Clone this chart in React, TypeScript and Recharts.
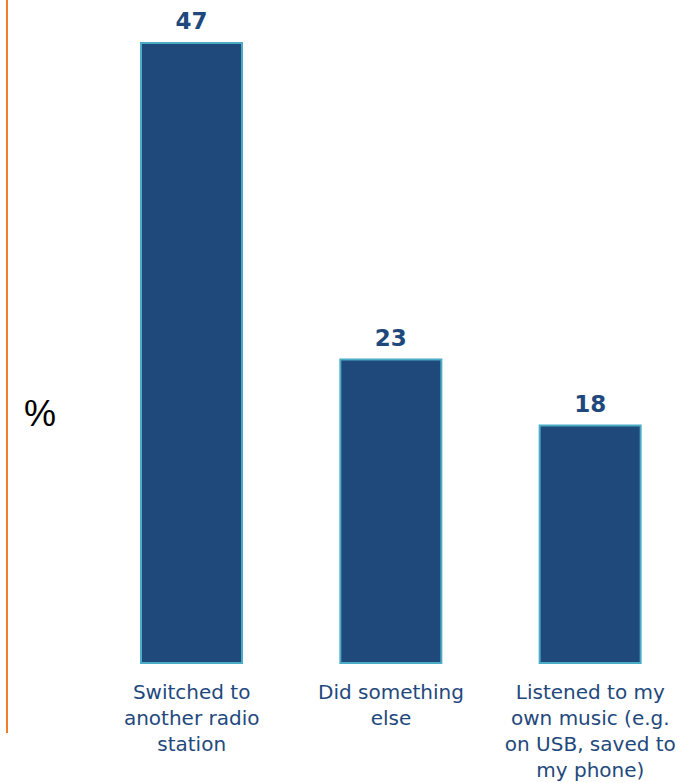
import { Bar, BarChart, LabelList, XAxis, YAxis } from "recharts";

const categories = [
  "Switched to another radio station",
  "Did something else",
  "Listened to my own music (e.g. on USB, saved to my phone)",
];
const categoryLines = [
  ["Switched to", "another radio", "station"],
  ["Did something", "else"],
  ["Listened to my", "own music (e.g.", "on USB, saved to", "my phone)"],
];
const shares = [47, 23, 18];

const data = categories.map((name, i) => ({ name, lines: categoryLines[i], value: shares[i] }));

const textBlue = "#1f497d";

function WrappedTick({ x, y, payload }: any) {
  const lines = categoryLines[payload.index] ?? [payload.value];
  return (
    <text x={x} y={y} textAnchor="middle" fill={textBlue} fontSize={20} fontFamily="DejaVu Sans, Verdana, sans-serif">
      {lines.map((line, i) => (
        <tspan key={i} x={x} dy={i === 0 ? 28 : 26}>
          {line}
        </tspan>
      ))}
    </text>
  );
}

export default function App() {
  return (
    <div style={{ position: "absolute", left: 0, top: 0, width: 700, height: 783, background: "#fff" }}>
      <div style={{ position: "absolute", left: 6, top: 0, width: 2, height: 733, background: "#f07f2a" }} />
      <div
        style={{
          position: "absolute",
          left: 24,
          top: 392,
          fontSize: 36,
          fontFamily: "Liberation Sans, Arial, sans-serif",
          color: "#000",
          lineHeight: "44px",
        }}
      >
        %
      </div>
      <BarChart width={700} height={783} data={data} margin={{ top: 43, right: 10, bottom: 0, left: 92 }}>
        <XAxis dataKey="name" axisLine={false} tickLine={false} interval={0} tick={<WrappedTick />} height={120} />
        <YAxis hide domain={[0, 47]} />
        <Bar dataKey="value" fill="#1f497a" stroke="#4bacc6" strokeWidth={2} barSize={101} isAnimationActive={false}>
          <LabelList
            dataKey="value"
            position="top"
            offset={14}
            fill={textBlue}
            fontSize={23}
            fontWeight="bold"
            fontFamily="DejaVu Sans, Verdana, sans-serif"
          />
        </Bar>
      </BarChart>
    </div>
  );
}
